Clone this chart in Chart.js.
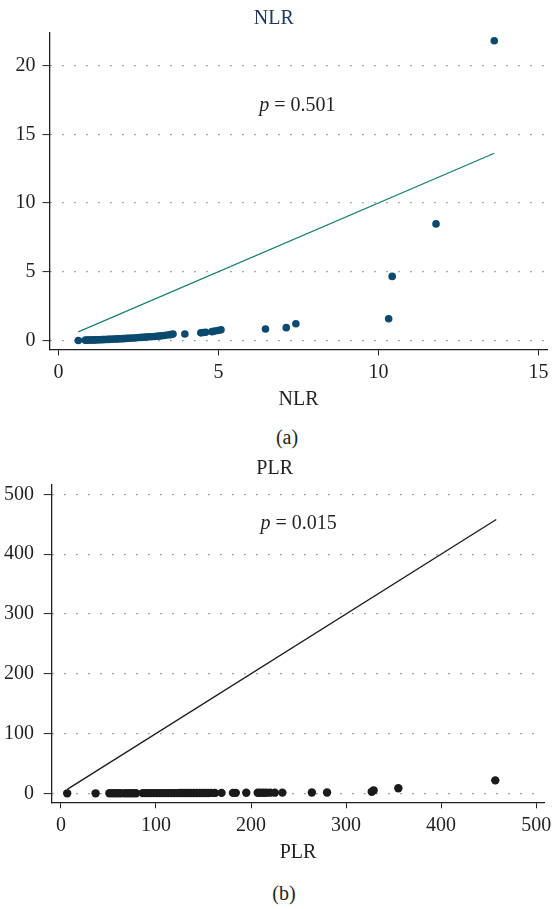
<!DOCTYPE html>
<html>
<head>
<meta charset="utf-8">
<title>NLR / PLR</title>
<style>
    body {
        margin: 0;
        background: #fff;
        font-family: "Liberation Serif", "Times New Roman", serif;
    }
    #page { position: relative; width: 557px; height: 909px; }
    .box { position: absolute; left: 0; width: 557px; height: 420px; }
    .caption {
        position: absolute;
        width: 40px;
        text-align: center;
        font-size: 20px;
        line-height: 22px;
        color: #231f20;
    }
</style>
</head>
<body>
<script src="https://cdn.jsdelivr.net/npm/chart.js@4.4.1/dist/chart.umd.min.js"></script>
<div id="page">
    <div class="box" style="top:0"><canvas id="nlrChart"></canvas></div>
    <div class="caption" style="left:267px; top:426px">(a)</div>
    <div class="box" style="top:450px"><canvas id="plrChart"></canvas></div>
    <div class="caption" style="left:264px; top:882px">(b)</div>
</div>
<script>
    // panel (a): NLR
    const nlrX = [0.62, 0.84, 0.90, 0.95, 1.00, 1.05, 1.10, 1.15, 1.20, 1.25, 1.30, 1.35, 1.40, 1.45, 1.50,
        1.55, 1.60, 1.66, 1.72, 1.78, 1.84, 1.90, 1.96, 2.02, 2.08, 2.14, 2.20, 2.28, 2.36, 2.44, 2.52,
        2.60, 2.70, 2.80, 2.90, 3.00, 3.10, 3.20, 3.30, 3.40, 3.50, 3.58, 3.95, 4.45, 4.52, 4.60, 4.80,
        4.88, 4.98, 5.08, 6.47, 7.12, 7.42, 10.32, 10.43, 11.80, 13.62];
    const nlrY = [0.00, 0.02, 0.02, 0.03, 0.03, 0.03, 0.04, 0.04, 0.05, 0.05, 0.05, 0.06, 0.06, 0.07, 0.07,
        0.08, 0.08, 0.09, 0.10, 0.10, 0.11, 0.12, 0.12, 0.13, 0.14, 0.15, 0.16, 0.17, 0.18, 0.19, 0.21,
        0.22, 0.24, 0.26, 0.27, 0.29, 0.31, 0.33, 0.36, 0.39, 0.42, 0.46, 0.47, 0.55, 0.58, 0.60, 0.64,
        0.68, 0.72, 0.77, 0.83, 0.93, 1.21, 1.58, 4.66, 8.48, 21.80];
    const nlrFitX = [0.62, 13.62];
    const nlrFitY = [0.62, 13.62];
    const nlrXTicks = [0, 5, 10, 15];
    const nlrYTicks = [0, 5, 10, 15, 20];

    // panel (b): PLR
    const plrX = [6.6, 36.5, 51, 54, 57, 60, 63, 67, 70, 73, 76, 79, 86, 89, 92, 95, 98, 101, 104, 107,
        110, 113, 116, 119, 122, 125, 128, 131, 134, 137, 140, 143, 146, 149, 152, 155, 158, 162, 169,
        181, 184, 195, 207, 210, 213, 216, 220, 225, 233, 264, 280, 327, 329, 355, 457];
    const plrY = [0, 0, 0.1, 0.1, 0.1, 0.1, 0.2, 0.2, 0.2, 0.2, 0.2, 0.2, 0.3, 0.3, 0.3, 0.3, 0.3, 0.3, 0.3,
        0.4, 0.4, 0.4, 0.4, 0.4, 0.4, 0.5, 0.5, 0.5, 0.5, 0.5, 0.5, 0.6, 0.6, 0.6, 0.6, 0.6, 0.7, 0.7,
        0.8, 0.8, 0.8, 0.9, 1.0, 1.0, 1.0, 1.0, 1.1, 1.1, 1.2, 1.4, 1.5, 2.5, 5.0, 8.4, 21.7];
    const plrFitX = [6.6, 458];
    const plrFitY = [6.6, 458];
    const plrTicks = [0, 100, 200, 300, 400, 500];

    const serif = '"Liberation Serif", "Times New Roman", serif';
    const ink = '#231f20';
    const fontSize = 20;

    function pairs(xs, ys) {
        return xs.map((x, i) => ({ x: x, y: ys[i] }));
    }

    // "p = ..." label, placed in data coordinates
    const pLabel = {
        id: 'pLabel',
        afterDatasetsDraw(chart, args, opts) {
            const ctx = chart.ctx;
            const px = chart.scales.x.getPixelForValue(opts.x);
            const py = chart.scales.y.getPixelForValue(opts.y);
            const rest = ' = ' + opts.value;
            ctx.save();
            ctx.fillStyle = ink;
            ctx.textBaseline = 'middle';
            ctx.textAlign = 'left';
            ctx.font = 'italic ' + fontSize + 'px ' + serif;
            const w1 = ctx.measureText('p').width;
            ctx.font = fontSize + 'px ' + serif;
            const w2 = ctx.measureText(rest).width;
            const left = px - (w1 + w2) / 2;
            ctx.font = 'italic ' + fontSize + 'px ' + serif;
            ctx.fillText('p', left, py);
            ctx.font = fontSize + 'px ' + serif;
            ctx.fillText(rest, left + w1, py);
            ctx.restore();
        }
    };

    function makeChart(id, c) {
        const font = { family: serif, size: fontSize, weight: 'normal' };
        return new Chart(id, {
            type: 'scatter',
            data: {
                datasets: [{
                    data: pairs(c.xs, c.ys),
                    backgroundColor: c.dot,
                    pointRadius: c.r,
                    pointHoverRadius: c.r,
                    pointBorderWidth: 0
                }, {
                    type: 'line',
                    data: pairs(c.fitX, c.fitY),
                    borderColor: c.lineColor,
                    borderWidth: 1.3,
                    pointRadius: 0,
                    fill: false
                }]
            },
            options: {
                responsive: true,
                maintainAspectRatio: false,
                animation: false,
                layout: { padding: { left: 0, right: c.padRight, top: 0, bottom: 0 } },
                plugins: {
                    legend: { display: false },
                    tooltip: { enabled: false },
                    title: {
                        display: true,
                        text: c.title,
                        color: c.titleColor,
                        font: font,
                        padding: c.titlePad
                    },
                    pLabel: c.p
                },
                scales: {
                    x: {
                        type: 'linear',
                        min: c.xMin,
                        max: c.xMax,
                        afterFit: s => { s.height = c.xHeight; },
                        afterBuildTicks: s => { s.ticks = c.xTicks.map(v => ({ value: v })); },
                        grid: { drawOnChartArea: false, drawTicks: true, tickLength: 6, tickColor: ink, tickWidth: 1 },
                        border: { color: ink, width: 1.3 },
                        ticks: { color: ink, font: font, padding: c.xTickPad, maxRotation: 0 },
                        title: { display: true, text: c.xTitle, color: ink, font: font, padding: { top: 0, bottom: c.xTitlePad } }
                    },
                    y: {
                        type: 'linear',
                        min: c.yMin,
                        max: c.yMax,
                        afterFit: s => { s.width = c.yWidth; },
                        afterBuildTicks: s => { s.ticks = c.yTicks.map(v => ({ value: v })); },
                        grid: { color: '#6b6b6b', lineWidth: 1.2, drawTicks: true, tickLength: c.yTickLen, tickColor: ink, tickWidth: 1 },
                        border: { color: ink, width: 1.3, dash: [1.2, 10.8] },
                        ticks: { color: ink, font: font, padding: c.yTickPad }
                    }
                }
            },
            plugins: [pLabel]
        });
    }

    makeChart('nlrChart', {
        xs: nlrX, ys: nlrY, fitX: nlrFitX, fitY: nlrFitY,
        xTicks: nlrXTicks, yTicks: nlrYTicks,
        dot: '#0b4a6f', r: 3.8, lineColor: '#17806f',
        title: 'NLR', titleColor: '#1f3a60', xTitle: 'NLR',
        titlePad: { top: 6.3, bottom: 2.0 },
        padRight: 9.3, yWidth: 49.5, xHeight: 70.5,
        xTickPad: 5.5, xTitlePad: 8, yTickLen: 7, yTickPad: 7,
        xMin: -0.28, xMax: 15.29, yMin: -0.66, yMax: 22.42,
        p: { x: 7.47, y: 17.1, value: '0.501' }
    });

    makeChart('plrChart', {
        xs: plrX, ys: plrY, fitX: plrFitX, fitY: plrFitY,
        xTicks: plrTicks, yTicks: plrTicks,
        dot: '#1a1a1a', r: 4.2, lineColor: '#1a1a1a',
        title: 'PLR', titleColor: ink, xTitle: 'PLR',
        titlePad: { top: 7, bottom: 4 },
        padRight: 7.7, yWidth: 51.7, xHeight: 67.7,
        xTickPad: 5.7, xTitlePad: 5, yTickLen: 8, yTickPad: 9.7,
        xMin: -9.7, xMax: 508.6, yMin: -15, yMax: 515.6,
        p: { x: 250, y: 450, value: '0.015' }
    });
</script>
</body>
</html>
